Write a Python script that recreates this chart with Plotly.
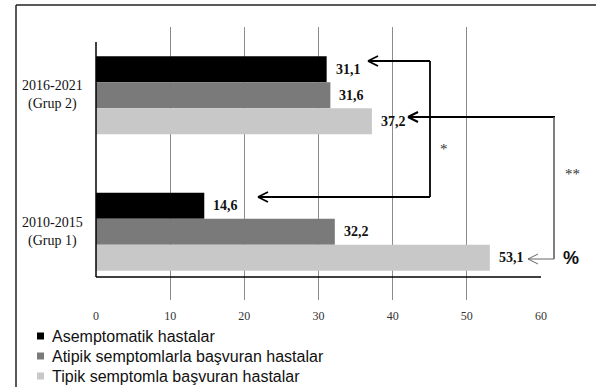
import plotly.graph_objects as go

categories = ["2016-2021", "2010-2015"]
cat_labels = ["2016-2021<br>(Grup 2)", "2010-2015<br>(Grup 1)"]
series_names = ["Asemptomatik hastalar",
                "Atipik semptomlarla başvuran hastalar",
                "Tipik semptomla başvuran hastalar"]
asemptomatik = [31.1, 14.6]
atipik = [31.6, 32.2]
tipik = [37.2, 53.1]
series_values = [asemptomatik, atipik, tipik]
colors = ["#000000", "#7a7a7a", "#c8c8c8"]
x_ticks = [0, 10, 20, 30, 40, 50, 60]

W, H = 596, 387
L, R, T, B = 96, 55, 27, 87
PW, PH = W - L - R, H - T - B

def px(xp):
    return (xp - L) / PW

def py(yp):
    return (T + PH - yp) / PH

SERIF = "Liberation Serif, Times New Roman, serif"
SANS = "Liberation Sans, Arial, sans-serif"

fig = go.Figure()
for name, vals, col in zip(series_names, series_values, colors):
    fig.add_trace(go.Bar(y=categories, x=vals, orientation="h", name=name,
                         marker=dict(color=col, line=dict(width=0)),
                         showlegend=False, hoverinfo="skip"))

bar_w = 0.19
annotations = []
for i, vals in enumerate(series_values):
    for j, v in enumerate(vals):
        annotations.append(dict(
            x=v, y=j + (i - 1) * bar_w, xref="x", yref="y",
            text="<b>" + f"{v:.1f}".replace(".", ",") + "</b>",
            showarrow=False, xanchor="left", yanchor="middle", xshift=7,
            font=dict(family=SERIF, size=14, color="#111111")))

for j, lab in enumerate(cat_labels):
    annotations.append(dict(x=px(52), y=j, xref="paper", yref="y", text=lab,
                            showarrow=False, xanchor="center", yanchor="middle",
                            align="center",
                            font=dict(family=SERIF, size=14, color="#111111")))

annotations += [
    dict(x=px(444), y=py(149), xref="paper", yref="paper", text="*",
         showarrow=False, xanchor="center", yanchor="middle",
         font=dict(family=SERIF, size=15, color="#333333")),
    dict(x=px(572), y=py(174), xref="paper", yref="paper", text="**",
         showarrow=False, xanchor="center", yanchor="middle",
         font=dict(family=SERIF, size=15, color="#333333")),
    dict(x=px(571), y=py(258), xref="paper", yref="paper", text="<b>%</b>",
         showarrow=False, xanchor="center", yanchor="middle",
         font=dict(family=SANS, size=18, color="#111111")),
]

for k, name in enumerate(series_names):
    yc = 336 + 20 * k
    annotations.append(dict(x=px(50), y=py(yc), xref="paper", yref="paper",
                            text=name, showarrow=False, xanchor="left",
                            yanchor="middle",
                            font=dict(family=SANS, size=16, color="#111111")))

shapes = []
def line(x0, y0, x1, y1, color="#000000", width=1.5):
    shapes.append(dict(type="line", xref="paper", yref="paper",
                       x0=px(x0), y0=py(y0), x1=px(x1), y1=py(y1),
                       line=dict(color=color, width=width)))

def chevron(xt, yt, color="#000000", width=1.5, size=10, half=5):
    line(xt, yt, xt + size, yt - half, color, width)
    line(xt, yt, xt + size, yt + half, color, width)

# outer frame
line(16, 5, 600, 5, "#222222", 1.5)
line(16, 5, 16, 400, "#222222", 1.5)
# axes lines
line(96, 42, 96, 277, "#000000", 1.5)
line(96, 277, 541, 277, "#000000", 1.5)

# legend squares
for k, col in enumerate(colors):
    yc = 336 + 20 * k
    shapes.append(dict(type="rect", xref="paper", yref="paper",
                       x0=px(37), y0=py(yc - 3.5), x1=px(44), y1=py(yc + 3.5),
                       line=dict(width=0), fillcolor=col))

# arrow 1
line(368, 61, 430, 61, "#000000", 1.8)
line(430, 61, 430, 197, "#000000", 1.8)
line(430, 197, 258, 197, "#000000", 1.8)
chevron(368, 61, "#000000", 1.8)
chevron(258, 197, "#000000", 1.8)
# arrow 2
line(408, 117, 555, 117, "#000000", 2)
line(554, 117, 554, 259, "#555555", 1.5)
line(554, 259, 528, 259, "#666666", 1)
chevron(408, 117, "#000000", 2)
chevron(528, 259, "#666666", 1)

fig.update_layout(
    template="none",
    width=W, height=H, margin=dict(l=L, r=R, t=T, b=B),
    paper_bgcolor="white", plot_bgcolor="white",
    barmode="group", bargap=0.43, bargroupgap=0,
    showlegend=False,
    annotations=annotations, shapes=shapes,
    xaxis=dict(range=[0, 60], tickvals=x_ticks, showgrid=True,
               gridcolor="#8c8c8c", gridwidth=1, zeroline=False,
               showline=False, ticks="outside", ticklen=5,
               tickcolor="rgba(0,0,0,0)",
               tickfont=dict(family=SERIF, size=12, color="#333333")),
    yaxis=dict(categoryorder="array", categoryarray=categories,
               autorange="reversed", showticklabels=False, showgrid=False,
               zeroline=False, showline=False),
)

fig.write_html("out.html", config={"displayModeBar": False, "staticPlot": True},
               post_script="document.body.style.margin='0';document.body.style.overflow='hidden';")
